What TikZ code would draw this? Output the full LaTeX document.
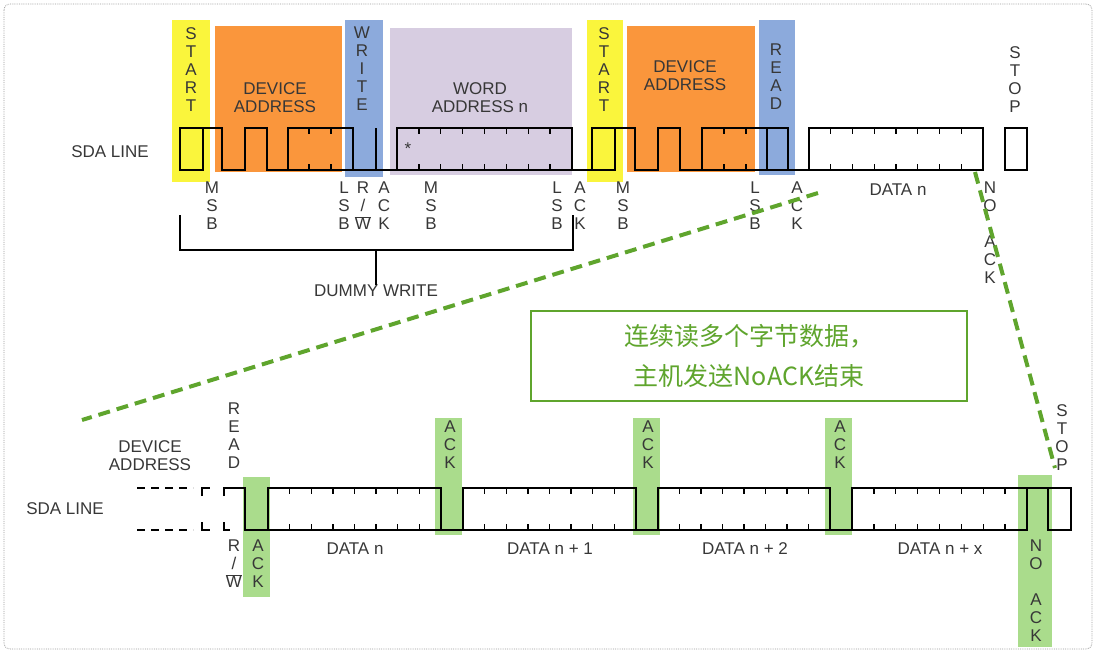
\documentclass[tikz,border=0pt]{standalone}
\usepackage{fontspec}
\setmainfont{Liberation Sans}
\newfontfamily\cjk{Noto Sans CJK SC}
\usetikzlibrary{positioning}

\definecolor{bandyellow}{RGB}{250,245,60}
\definecolor{bandorange}{RGB}{250,150,60}
\definecolor{bandblue}{RGB}{140,170,220}
\definecolor{bandlilac}{RGB}{215,205,225}
\definecolor{bandgreen}{RGB}{170,220,140}
\definecolor{linegreen}{RGB}{95,165,45}
\definecolor{txtgrey}{RGB}{55,55,55}

\tikzset{
	lbl/.style={font=\fontsize{17}{18}\selectfont, text=txtgrey, align=center, inner sep=0pt},
	vlbl/.style={lbl, anchor=north},
	wave/.style={line width=1.3pt, line join=miter},
	guide/.style={linegreen, line width=4pt, dash pattern=on 12pt off 7pt},
}

% data byte: box from #1 to #2, high #3, low #4, seven ticks
\newcommand\databyte[4]{
	\draw[wave] (#1,#3) rectangle (#2,#4);
	\foreach \k in {1,...,7}{
		\draw[wave] ({#1+\k*(#2-#1)/8},#3) -- ++(0,6);
		\draw[wave] ({#1+\k*(#2-#1)/8},#4) -- ++(0,-6);
	}
}

\begin{document}
\begin{tikzpicture}[x=1pt,y=-1pt]
	\useasboundingbox (0,0) rectangle (1096,653);
	\draw[gray!80, densely dotted, line width=0.8pt, rounded corners=6pt] (4,4) rectangle (1092,649);

	% colour bands, top line
	\fill[bandyellow] (172,20) rectangle (210,182);
	\fill[bandorange] (215,26) rectangle (342,172);
	\fill[bandblue] (345,20) rectangle (383,177);
	\fill[bandlilac] (390,28) rectangle (572,175);
	\fill[bandyellow] (587,20) rectangle (623,182);
	\fill[bandorange] (627,26) rectangle (755,172);
	\fill[bandblue] (759,20) rectangle (795,175);

	% colour bands, bottom line
	\fill[bandgreen] (243,477) rectangle (270,597);
	\fill[bandgreen] (435,418) rectangle (462,535);
	\fill[bandgreen] (633,418) rectangle (660,535);
	\fill[bandgreen] (825,418) rectangle (852,535);
	\fill[bandgreen] (1018,475) rectangle (1052,647);

	% top wave
	\draw[wave] (180,128) rectangle (203,170);
	\draw[wave] (203,128) -- (222,128) -- (222,170) -- (245,170) -- (245,128) -- (267,128) -- (267,170) -- (288,170) -- (288,128) -- (353,128) -- (353,170);
	\draw[wave] (288,170) -- (397,170);
	\draw[wave] (376,128) -- (376,170);
	\foreach \t in {309,331}{
		\draw[wave] (\t,128) -- ++(0,6);
		\draw[wave] (\t,170) -- ++(0,-6);
	}
	\databyte{397}{572}{128}{170}
	\node[lbl] (star) at (408,149) {*};
	\draw[wave] (572,170) -- (592,170);
	\draw[wave] (592,128) rectangle (615,170);
	\draw[wave] (615,128) -- (635,128) -- (635,170) -- (658,170) -- (658,128) -- (680,128) -- (680,170) -- (702,170) -- (702,128) -- (788,128) -- (788,170) -- (809,170);
	\draw[wave] (702,170) -- (788,170);
	\draw[wave] (767,128) -- (767,170);
	\foreach \t in {724,746}{
		\draw[wave] (\t,128) -- ++(0,6);
		\draw[wave] (\t,170) -- ++(0,-6);
	}
	\databyte{809}{983}{128}{170}
	\draw[wave] (1005,128) rectangle (1027,170);

	% bottom wave
	\draw[wave, dash pattern=on 8pt off 6pt] (137,488) -- (193,488);
	\draw[wave, dash pattern=on 8pt off 6pt] (137,530) -- (193,530);
	\draw[wave] (202,496) -- (202,488) -- (210,488);
	\draw[wave] (202,522) -- (202,530) -- (210,530);
	\draw[wave] (224,496) -- (224,488) -- (245,488) -- (245,530) -- (268,530);
	\draw[wave] (224,522) -- (224,530) -- (230,530);
	\databyte{268}{441}{488}{530}
	\draw[wave] (441,530) -- (463,530);
	\databyte{463}{636}{488}{530}
	\draw[wave] (636,530) -- (658,530);
	\databyte{658}{830}{488}{530}
	\draw[wave] (830,530) -- (852,530);
	\databyte{852}{1027}{488}{530}
	\draw[wave] (1027,488) -- (1071,488) -- (1071,530) -- (1048,530) -- (1048,488);

	% top labels
	\node[vlbl] (start1) at (191,27) {S\\T\\A\\R\\T};
	\node[lbl] (dev1) at (275,98) {DEVICE\\ADDRESS};
	\node[vlbl] (write) at (362,27) {W\\R\\I\\T\\E};
	\node[lbl] (word) at (480,98) {WORD\\ADDRESS n};
	\node[vlbl] (start2) at (604,27) {S\\T\\A\\R\\T};
	\node[lbl] (dev2) at (685,76) {DEVICE\\ADDRESS};
	\node[vlbl] (read1) at (776,44) {R\\E\\A\\D};
	\node[vlbl] (stop1) at (1015,46) {S\\T\\O\\P};
	\node[lbl] (sda1) at (110,152) {SDA LINE};

	\node[vlbl] (msb1) at (212,182) {M\\S\\B};
	\node[vlbl] (lsb1) at (344,182) {L\\S\\B};
	\node[vlbl] (rw1) at (363,182) {R\\/\\$\overline{\mbox{W}}$};
	\node[vlbl] (ack1) at (384,182) {A\\C\\K};
	\node[vlbl] (msb2) at (431,182) {M\\S\\B};
	\node[vlbl] (lsb2) at (557,182) {L\\S\\B};
	\node[vlbl] (ack2) at (580,182) {A\\C\\K};
	\node[vlbl] (msb3) at (623,182) {M\\S\\B};
	\node[vlbl] (lsb3) at (755,182) {L\\S\\B};
	\node[vlbl] (ack3) at (797,182) {A\\C\\K};
	\node[lbl] (datan1) at (898,190) {DATA n};
	\node[vlbl] (noack1) at (990,182) {N\\O\\ \\A\\C\\K};

	% dummy write bracket
	\coordinate (brl) at (180,215);
	\coordinate (brr) at (573,215);
	\coordinate (brm) at (376,250);
	\draw[line width=1.3pt] (brl) -- (brl |- brm) -- (brr |- brm) -- (brr);
	\node[lbl] (dummy) at (376,291) {DUMMY WRITE};
	\draw[line width=1.3pt] (brm) -- (dummy.north);

	% bottom labels
	\node[lbl] (sda2) at (65,509) {SDA LINE};
	\node[lbl] (dev3) at (150,456) {DEVICE\\ADDRESS};
	\node[vlbl] (read2) at (234,403) {R\\E\\A\\D};
	\node[vlbl] (rw2) at (234,540) {R\\/\\$\overline{\mbox{W}}$};
	\node[vlbl] (ack4) at (258,540) {A\\C\\K};
	\node[vlbl] (ack5) at (450,421) {A\\C\\K};
	\node[vlbl] (ack6) at (648,421) {A\\C\\K};
	\node[vlbl] (ack7) at (840,421) {A\\C\\K};
	\node[vlbl] (stop2) at (1062,404) {S\\T\\O\\P};
	\node[vlbl] (noack2) at (1036,540) {N\\O\\ \\A\\C\\K};
	\node[lbl] (datan2) at (355,549) {DATA n};
	\node[lbl] (datan3) at (550,549) {DATA n + 1};
	\node[lbl] (datan4) at (745,549) {DATA n + 2};
	\node[lbl] (datan5) at (940,549) {DATA n + x};

	% zoom guides
	\coordinate (ga) at (818,193);
	\coordinate (gb) at (82,420);
	\coordinate (gc) at (975,172);
	\coordinate (gd) at (1055,468);
	\draw[guide] (ga) -- (gb);
	\draw[guide] (gc) -- (gd);

	% note
	\node[draw=linegreen, line width=2.5pt, fill=white, minimum width=436pt, minimum height=90pt, text=linegreen, align=center, font=\cjk\fontsize{25}{40}\selectfont] (note) at (749,356) {连续读多个字节数据，\\主机发送NoACK结束};
\end{tikzpicture}
\end{document}
